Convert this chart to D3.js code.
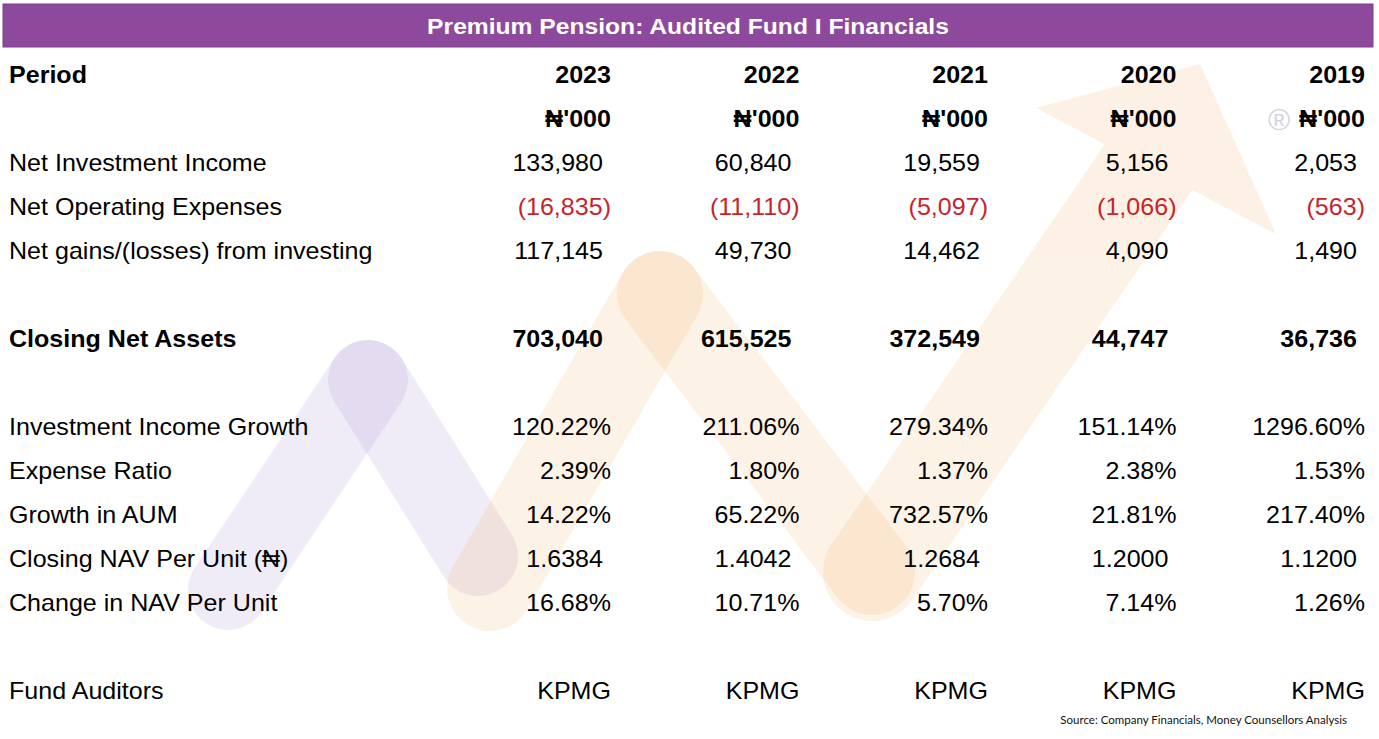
<!DOCTYPE html>
<html>
<head>
<meta charset="utf-8">
<script src="https://cdn.jsdelivr.net/npm/d3@7"></script>
<style>
  html, body { margin: 0; padding: 0; background: #fff; }
  svg { display: block; }
</style>
</head>
<body>
<svg id="chart"></svg>
<script>
// Table values
const title = 'Premium Pension: Audited Fund I Financials';
const years = ['2023', '2022', '2021', '2020', '2019'];
const netInvestmentIncome = [133980, 60840, 19559, 5156, 2053];
const netOperatingExpenses = [-16835, -11110, -5097, -1066, -563];
const netGains = [117145, 49730, 14462, 4090, 1490];
const closingNetAssets = [703040, 615525, 372549, 44747, 36736];
const incomeGrowth = [120.22, 211.06, 279.34, 151.14, 1296.60];
const expenseRatio = [2.39, 1.80, 1.37, 2.38, 1.53];
const aumGrowth = [14.22, 65.22, 732.57, 21.81, 217.40];
const closingNav = [1.6384, 1.4042, 1.2684, 1.2000, 1.1200];
const navChange = [16.68, 10.71, 5.70, 7.14, 1.26];
const auditors = ['KPMG', 'KPMG', 'KPMG', 'KPMG', 'KPMG'];
const source = 'Source: Company Financials, Money Counsellors Analysis';

// decorative watermark behind the table (logo strokes)
const purpleStrokes = [[[228, 590], [368, 380]], [[368, 380], [478, 556]]];
const orangeStrokes = [[[490, 588], [660, 294]], [[660, 294], [872, 572]]];
const arrowShaft = [[872, 572], [1150, 165]];
const arrowHead = [[1200, 64], [1036, 108], [1276, 234]];

const W = 1379, H = 739;
const svg = d3.select('#chart').attr('width', W).attr('height', H);

const fmtNum = v => v < 0 ? `(${d3.format(',')(-v)})` : d3.format(',')(v);
const fmtPct = v => d3.format('.2f')(v) + '%';
const fmtNav = v => d3.format('.4f')(v);

// rows: kind 'num' sits a little left of the column edge (accounting style)
const rows = [
  { id: 'period', label: 'Period', bold: true, cells: years, kind: 'head' },
  { id: 'unit', label: '', bold: true, cells: years.map(() => "\u20A6'000"), kind: 'head' },
  { id: 'nii', label: 'Net Investment Income', cells: netInvestmentIncome.map(fmtNum), kind: 'num' },
  { id: 'noe', label: 'Net Operating Expenses', cells: netOperatingExpenses.map(fmtNum), kind: 'num', red: true },
  { id: 'ng', label: 'Net gains/(losses) from investing', cells: netGains.map(fmtNum), kind: 'num' },
  { id: 'gap1' },
  { id: 'cna', label: 'Closing Net Assets', bold: true, cells: closingNetAssets.map(fmtNum), kind: 'num' },
  { id: 'gap2' },
  { id: 'iig', label: 'Investment Income Growth', cells: incomeGrowth.map(fmtPct), kind: 'pct' },
  { id: 'er', label: 'Expense Ratio', cells: expenseRatio.map(fmtPct), kind: 'pct' },
  { id: 'aum', label: 'Growth in AUM', cells: aumGrowth.map(fmtPct), kind: 'pct' },
  { id: 'nav', label: 'Closing NAV Per Unit (\u20A6)', cells: closingNav.map(fmtNav), kind: 'num' },
  { id: 'cnav', label: 'Change in NAV Per Unit', cells: navChange.map(fmtPct), kind: 'pct' },
  { id: 'gap3' },
  { id: 'aud', label: 'Fund Auditors', cells: auditors, kind: 'text' }
];

// Scales
const y = d3.scalePoint().domain(rows.map(r => r.id)).range([75, 691]);
const x = d3.scalePoint().domain(years).range([611, 1365]);

// Watermark
const wm = svg.append('g').attr('class', 'watermark');
const line = d3.line();
const purple = '#8a6fc0', orange = '#f3a557';
purpleStrokes.forEach(s => {
  wm.append('path').attr('d', line(s))
    .attr('stroke', purple).attr('stroke-opacity', 0.13)
    .attr('stroke-width', 80).attr('stroke-linecap', 'round').attr('fill', 'none');
});
orangeStrokes.forEach(s => {
  wm.append('path').attr('d', line(s))
    .attr('stroke', orange).attr('stroke-opacity', 0.15)
    .attr('stroke-width', 86).attr('stroke-linecap', 'round').attr('fill', 'none');
});
// arrow drawn opaque inside a translucent group so shaft and head don't stack
const arrow = wm.append('g').attr('opacity', 0.15);
arrow.append('path').attr('d', line(arrowShaft))
  .attr('stroke', orange).attr('stroke-width', 98)
  .attr('stroke-linecap', 'round').attr('fill', 'none');
arrow.append('path').attr('d', line(arrowHead) + 'Z')
  .attr('fill', orange);

wm.append('text')
  .attr('x', 1279).attr('y', 119).attr('dy', '0.35em')
  .attr('text-anchor', 'middle')
  .attr('font-family', '"Liberation Sans", Arial, sans-serif')
  .attr('font-size', 30).attr('fill', '#d2d2da')
  .text('\u00AE');

// Title bar
svg.append('rect')
  .attr('x', 3).attr('y', 4).attr('width', 1370).attr('height', 43)
  .attr('fill', '#8d4a9d').attr('stroke', '#7c3f8c').attr('stroke-width', 1);

const sx = 1.09;
const font = '"Liberation Sans", Arial, Helvetica, sans-serif';

svg.append('text')
  .attr('transform', `translate(688,26) scale(1.12,1)`)
  .attr('dy', '0.35em')
  .attr('text-anchor', 'middle')
  .attr('font-family', font).attr('font-weight', 'bold')
  .attr('font-size', 22).attr('fill', '#fff')
  .text(title);

// Row labels
const body = svg.append('g').attr('class', 'table');
const dataRows = rows.filter(r => r.cells);

body.selectAll('.label')
  .data(dataRows)
  .enter().append('text')
  .attr('class', 'label')
  .attr('transform', d => `translate(9,${y(d.id)}) scale(${sx},1)`)
  .attr('dy', '0.35em')
  .attr('font-family', font)
  .attr('font-weight', d => d.bold ? 'bold' : 'normal')
  .attr('font-size', 23).attr('fill', '#000')
  .text(d => d.label);

// Cells
dataRows.forEach(r => {
  body.selectAll(`.cell-${r.id}`)
    .data(r.cells.map((c, i) => ({ c, year: years[i] })))
    .enter().append('text')
    .attr('class', `cell-${r.id}`)
    .attr('transform', d => {
      const off = (r.kind === 'num' && !d.c.startsWith('(')) ? -8 : 0;
      return `translate(${x(d.year) + off},${y(r.id)}) scale(${sx},1)`;
    })
    .attr('dy', '0.35em')
    .attr('text-anchor', 'end')
    .attr('font-family', font)
    .attr('font-weight', r.bold ? 'bold' : 'normal')
    .attr('font-size', 23)
    .attr('fill', r.red ? '#c4262b' : '#000')
    .text(d => d.c);
});

// Source note
svg.append('text')
  .attr('x', 1347).attr('y', 720).attr('dy', '0.35em')
  .attr('text-anchor', 'end')
  .attr('font-family', 'Lato, "Open Sans", sans-serif')
  .attr('font-size', 11.5).attr('fill', '#111')
  .text(source);
</script>
</body>
</html>
